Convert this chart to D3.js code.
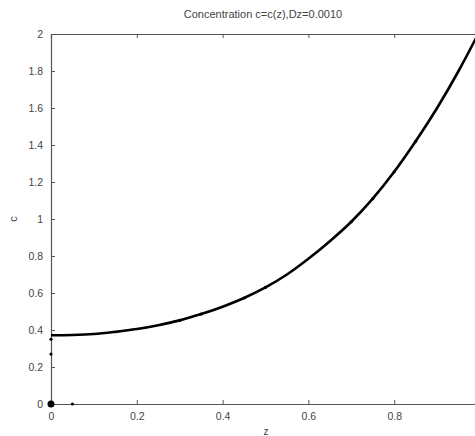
<!DOCTYPE html>
<html>
<head>
<meta charset="utf-8">
<script src="https://cdn.jsdelivr.net/npm/d3@7"></script>
<style>
  body { margin: 0; background: #fff; }
  svg text { font-family: "Liberation Sans", Arial, sans-serif; fill: #444; }
</style>
</head>
<body>
<div class="chart"></div>
<script>
// concentration profile
const zValues = [0, 0.05, 0.1, 0.15, 0.2, 0.25, 0.3, 0.35, 0.4, 0.45, 0.5,
                 0.55, 0.6, 0.65, 0.7, 0.75, 0.8, 0.85, 0.9, 0.95, 1.0];
const cValues = [0.372, 0.373, 0.378, 0.39, 0.405, 0.426, 0.452, 0.486, 0.526, 0.573, 0.63,
                 0.70, 0.785, 0.88, 0.985, 1.11, 1.255, 1.42, 1.60, 1.80, 2.02];
// the small dot markers
const dotZ = [0, 0.05, 0, 0, 0.3, 0.35, 0.45, 0.5, 0.7, 0.75, 0.8, 0.85];
const dotC = [0, 0, 0.27, 0.35, 0.452, 0.486, 0.573, 0.63, 0.985, 1.11, 1.255, 1.42];
const xTicks = [0, 0.2, 0.4, 0.6, 0.8, 1];
const xLabelTicks = [0, 0.2, 0.4, 0.6, 0.8];
const yTicks = [0, 0.2, 0.4, 0.6, 0.8, 1, 1.2, 1.4, 1.6, 1.8, 2];

let margin = {top: 34, right: -5, bottom: 32, left: 51};
let svg = d3.select('.chart')
    .append('svg')
    .attr('width', 475)
    .attr('height', 436);
let width = 429;
let height = 436 - margin.top - margin.bottom;

let x = d3.scaleLinear().domain([0, 1]).range([0, width]);
let y = d3.scaleLinear().domain([0, 2]).range([height, 0]);

let g = svg.append('g')
    .attr('transform', 'translate(' + margin.left + ',' + margin.top + ')');

g.append('clipPath').attr('id', 'clip')
    .append('rect').attr('width', width).attr('height', height);

// box axes, ticks inward
g.append('g')
    .attr('transform', 'translate(0,' + height + ')')
    .call(d3.axisBottom(x).tickValues(xTicks).tickSize(-4).tickFormat(''));
g.append('g')
    .attr('transform', 'translate(0,' + height + ')')
    .call(d3.axisBottom(x).tickValues(xLabelTicks).tickSize(0).tickPadding(9).tickFormat(d3.format('')))
    .select('.domain').remove();
g.append('g')
    .call(d3.axisTop(x).tickValues(xTicks).tickSize(-4).tickFormat(''));
g.append('g')
    .call(d3.axisLeft(y).tickValues(yTicks).tickSize(-4).tickPadding(8).tickFormat(d3.format('')));
g.append('g')
    .attr('transform', 'translate(' + width + ',0)')
    .call(d3.axisRight(y).tickValues(yTicks).tickSize(-4).tickFormat(''));

g.selectAll('.domain').attr('stroke', '#555').attr('stroke-width', 1.2);
g.selectAll('.tick line').attr('stroke', '#555');
g.selectAll('.tick text').style('font-size', '10.5px').attr('fill', '#444');

let line = d3.line()
    .x((d, i) => x(zValues[i]))
    .y(d => y(d))
    .curve(d3.curveCatmullRom);

g.append('path')
    .datum(cValues)
    .attr('clip-path', 'url(#clip)')
    .attr('fill', 'none')
    .attr('stroke', '#000')
    .attr('stroke-width', 2.6)
    .attr('d', line);

g.selectAll('.dot')
    .data(dotZ)
    .enter().append('circle')
    .attr('class', 'dot')
    .attr('cx', d => x(d))
    .attr('cy', (d, i) => y(dotC[i]))
    .attr('r', (d, i) => i === 0 ? 3.5 : 1.6)
    .attr('fill', '#000');

svg.append('text')
    .attr('x', 263)
    .attr('y', 18)
    .style('text-anchor', 'middle')
    .style('font-size', '11px')
    .attr('fill', '#333')
    .text('Concentration c=c(z),Dz=0.0010');

svg.append('text')
    .attr('transform', 'translate(17,219) rotate(-90)')
    .style('text-anchor', 'middle')
    .style('font-size', '11px')
    .text('c');

svg.append('text')
    .attr('x', 266)
    .attr('y', 435)
    .style('text-anchor', 'middle')
    .style('font-size', '10px')
    .text('z');
</script>
</body>
</html>
